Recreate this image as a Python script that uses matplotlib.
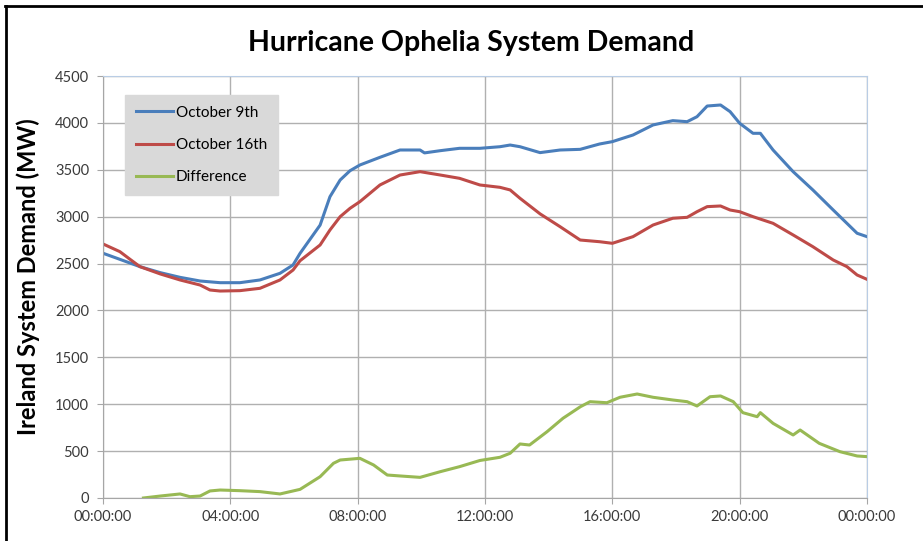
import matplotlib
matplotlib.use('Agg')
import numpy as np
from matplotlib import pyplot as plt
from matplotlib.lines import Line2D

# hours after midnight and demand in MW
oct9_hours = [0.0, 0.53, 1.16, 1.8, 2.42, 3.05, 3.68, 4.3, 4.93, 5.56, 5.97, 6.19,
              6.82, 7.13, 7.45, 7.76, 8.07, 8.7, 9.33, 9.96, 10.1, 10.6, 11.2,
              11.84, 12.47, 12.79, 13.1, 13.73, 14.36, 14.99, 15.6, 16.0, 16.65,
              17.28, 17.9, 18.35, 18.66, 18.98, 19.4, 19.7, 20.0, 20.42, 20.65,
              21.05, 21.68, 22.3, 22.94, 23.37, 23.69, 24.0]
oct9_mw = [2610, 2545, 2467, 2403, 2353, 2314, 2296, 2296, 2325, 2396, 2485, 2609,
           2910, 3213, 3391, 3490, 3551, 3633, 3711, 3711, 3680, 3704, 3729,
           3729, 3746, 3764, 3746, 3683, 3711, 3718, 3775, 3800, 3871,
           3978, 4024, 4013, 4066, 4180, 4191, 4120, 3996, 3889, 3889,
           3711, 3480, 3285, 3071, 2929, 2823, 2787]

oct16_hours = [0.0, 0.53, 0.85, 1.16, 1.8, 2.42, 3.05, 3.36, 3.68, 4.3, 4.93, 5.56,
               5.97, 6.19, 6.82, 7.13, 7.45, 7.76, 8.07, 8.7, 9.33, 9.96, 10.6,
               11.2, 11.84, 12.47, 12.79, 13.1, 13.73, 14.36, 14.99, 15.6, 16.0,
               16.65, 17.28, 17.9, 18.35, 18.66, 18.98, 19.4, 19.7, 20.0, 20.42,
               21.05, 21.68, 22.3, 22.94, 23.37, 23.69, 24.0]
oct16_mw = [2709, 2627, 2545, 2467, 2389, 2325, 2271, 2218, 2207, 2211, 2236, 2325,
            2431, 2530, 2698, 2858, 3000, 3089, 3160, 3338, 3444, 3480, 3444,
            3409, 3338, 3313, 3285, 3196, 3030, 2893, 2751, 2733, 2716,
            2787, 2911, 2983, 2993, 3053, 3107, 3114, 3071, 3053, 3000,
            2929, 2805, 2680, 2538, 2467, 2378, 2332]

diff_hours = [1.27, 1.8, 2.42, 2.73, 3.05, 3.36, 3.68, 4.3, 4.93, 5.56, 6.19, 6.82,
              7.24, 7.45, 8.07, 8.5, 8.93, 9.33, 9.96, 10.6, 11.2, 11.84, 12.47,
              12.79, 13.1, 13.4, 13.95, 14.45, 15.0, 15.3, 15.83, 16.24, 16.78,
              17.28, 17.9, 18.35, 18.66, 19.07, 19.4, 19.8, 20.1, 20.55, 20.65,
              21.05, 21.68, 21.9, 22.5, 23.15, 23.69, 24.0]
diff_mw = [0, 21, 43, 14, 21, 75, 85, 78, 68, 43, 92, 227,
           370, 405, 423, 352, 245, 235, 220, 281, 334, 400, 434,
           477, 576, 565, 707, 850, 974, 1027, 1016, 1074, 1109,
           1074, 1045, 1027, 981, 1080, 1088, 1027, 910, 867, 910,
           796, 672, 725, 583, 494, 448, 441]

y_ticks = [0, 500, 1000, 1500, 2000, 2500, 3000, 3500, 4000, 4500]
x_ticks = [0, 4, 8, 12, 16, 20, 24]
x_labels = ['00:00:00', '04:00:00', '08:00:00', '12:00:00', '16:00:00', '20:00:00', '00:00:00']

blue = '#4a7ebb'
red = '#be4b48'
green = '#98b954'

plt.rcParams['font.family'] = ['Lato', 'DejaVu Sans']

fig = plt.figure(figsize=(9.23, 5.41), dpi=100)
ax = fig.add_axes([0.1116, 0.0795, 0.8277, 0.78])

ax.plot(oct9_hours, oct9_mw, color=blue, lw=2.2, label='October 9th')
ax.plot(oct16_hours, oct16_mw, color=red, lw=2.2, label='October 16th')
ax.plot(diff_hours, diff_mw, color=green, lw=2.2, label='Difference')

ax.set_xlim(0, 24)
ax.set_ylim(0, 4500)
ax.set_xticks(x_ticks)
ax.set_xticklabels(x_labels)
ax.set_yticks(y_ticks)
ax.grid(True, color='#b0b0b0', lw=1)
ax.set_axisbelow(True)

for s in ['left', 'bottom']:
    ax.spines[s].set_color('#a6a6a6')
for s in ['top', 'right']:
    ax.spines[s].set_color('#b9cde5')
ax.tick_params(axis='both', colors='#a6a6a6', labelcolor='#3a3a3a', labelsize=10.5, length=4)
ax.tick_params(axis='y', pad=6)
ax.tick_params(axis='x', pad=5)

ax.set_ylabel('Ireland System Demand (MW)', fontsize=17, fontweight='bold')
ax.yaxis.set_label_coords(-0.083, 0.525)
fig.text(0.51, 0.92, 'Hurricane Ophelia System Demand', ha='center', va='center',
         fontsize=20.5, fontweight='bold')

leg = ax.legend(loc='upper left', bbox_to_anchor=(0.029, 0.955), frameon=True,
                fancybox=False, fontsize=11, handlelength=2.4, labelspacing=1.2,
                borderpad=0.7, handletextpad=0.2, borderaxespad=0)
leg.get_frame().set_facecolor('#d9d9d9')
leg.get_frame().set_edgecolor('#d9d9d9')
leg.get_frame().set_alpha(1)

# outer frame, only top and left show in the picture
fig.add_artist(Line2D([0.0055, 1.0], [0.988, 0.988], color='black', lw=2, transform=fig.transFigure))
fig.add_artist(Line2D([0.0060, 0.0060], [0.0, 0.988], color='black', lw=2, transform=fig.transFigure))

fig.savefig('out.png', dpi=100)
